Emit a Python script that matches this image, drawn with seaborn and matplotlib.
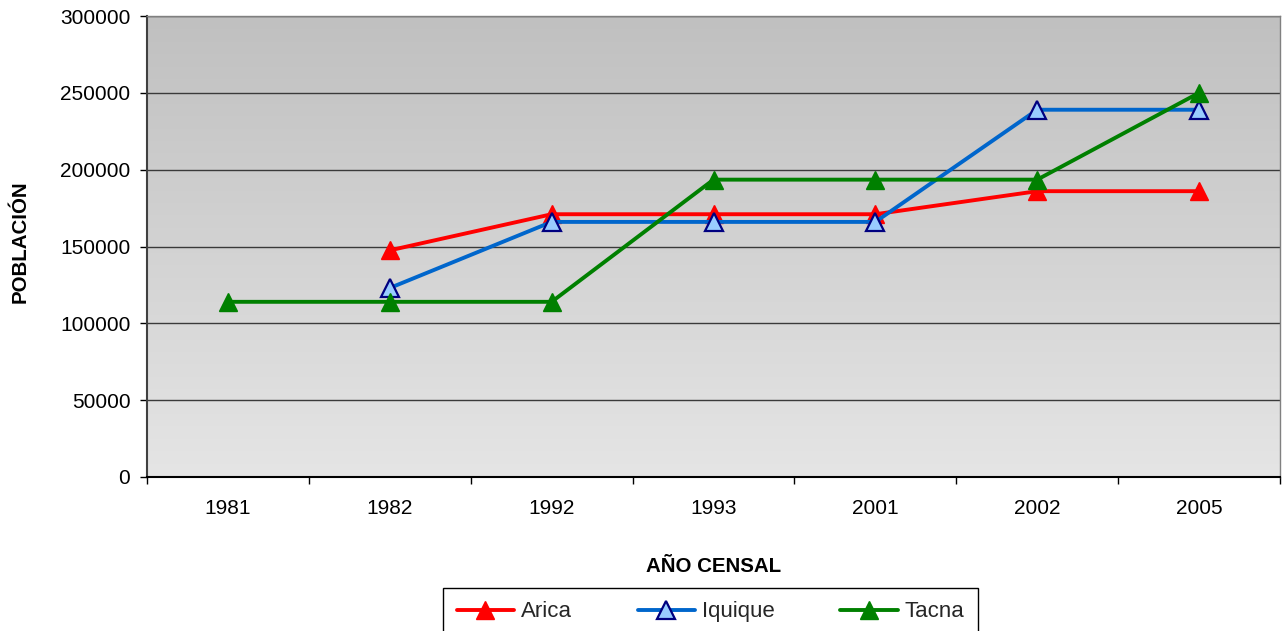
import numpy as np
import pandas as pd
import matplotlib
matplotlib.use("Agg")
import matplotlib.pyplot as plt
import seaborn as sns
from matplotlib.ticker import FixedLocator

# ---- data ----
years = ["1981", "1982", "1992", "1993", "2001", "2002", "2005"]
arica = [np.nan, 147500, 171000, 171000, 171000, 186000, 186000]
iquique = [np.nan, 123000, 166000, 166000, 166000, 239000, 239000]
tacna = [114000, 114000, 114000, 193500, 193500, 193500, 250000]
series_names = ["Arica", "Iquique", "Tacna"]
y_ticks = [0, 50000, 100000, 150000, 200000, 250000, 300000]

sns.set_theme(style="white")
plt.rcParams["font.family"] = ["Liberation Sans", "DejaVu Sans"]

pos = list(range(len(years)))
df = pd.DataFrame({
    "pos": pos * 3,
    "year": years * 3,
    "serie": np.repeat(series_names, len(years)),
    "valor": arica + iquique + tacna,
})

W, H = 1287, 631
fig = plt.figure(figsize=(W / 100, H / 100), dpi=100)
L, R, T, B = 147, 1280, 16, 477
ax = fig.add_axes([L / W, 1 - B / H, (R - L) / W, (B - T) / H])

# gradient background
g = np.linspace(192, 229, 256) / 255.0
grad = np.repeat(g[:, None], 2, axis=1)
rgb = np.dstack([grad, grad, grad])
ax.imshow(rgb, extent=[0, 1, 0, 1], transform=ax.transAxes, aspect="auto",
          zorder=0, interpolation="bilinear", origin="upper")

styles = {
    "Arica": dict(color="#ff0000", markerfacecolor="#ff0000", markeredgecolor="#ff0000", markeredgewidth=1),
    "Iquique": dict(color="#0066cc", markerfacecolor="#99ccff", markeredgecolor="#000080", markeredgewidth=1.6),
    "Tacna": dict(color="#008000", markerfacecolor="#008000", markeredgecolor="#008000", markeredgewidth=1),
}
for name in series_names:
    sub = df[df["serie"] == name].dropna()
    sns.lineplot(data=sub, x="pos", y="valor", ax=ax, marker="^", markersize=12.5,
                 linewidth=2.8, label=name, zorder=3, **styles[name])

ax.set_xlim(-0.5, len(years) - 0.5)
ax.set_ylim(y_ticks[0], y_ticks[-1])
ax.set_yticks(y_ticks)
ax.set_yticklabels([str(v) for v in y_ticks])
ax.set_xticks(pos)
ax.set_xticklabels(years)
ax.xaxis.set_minor_locator(FixedLocator([p - 0.5 for p in pos] + [len(years) - 0.5]))

ax.set_axisbelow(True)
ax.yaxis.grid(True, color="#3a3a3a", linewidth=1)
ax.xaxis.grid(False)

ax.tick_params(axis="y", which="major", direction="out", length=5, width=1, color="black",
               labelsize=15, pad=7, left=True, labelcolor="black")
ax.tick_params(axis="x", which="major", length=0, labelsize=15, pad=16, labelcolor="black")
ax.tick_params(axis="x", which="minor", direction="out", length=5, width=1, color="black", bottom=True)

for s in ["top", "right"]:
    ax.spines[s].set_color("#808080")
    ax.spines[s].set_linewidth(1)
ax.spines["left"].set_color("#404040")
ax.spines["left"].set_linewidth(1.5)
ax.spines["bottom"].set_color("black")
ax.spines["bottom"].set_linewidth(1.5)

ax.set_xlabel("")
ax.set_ylabel("")
fig.text(714 / W, 1 - 566 / H, "AÑO CENSAL", ha="center", va="center",
         fontsize=14.8, fontweight="bold", color="black")
fig.text(20 / W, 1 - 242 / H, "POBLACIÓN", ha="center", va="center", rotation=90,
         fontsize=14.8, fontweight="bold", color="black")

if ax.get_legend():
    ax.get_legend().remove()
handles, labels = ax.get_legend_handles_labels()
leg = fig.legend(handles, labels, loc="upper center", bbox_to_anchor=(710.5 / W, 1 - 588 / H),
                 ncol=3, fontsize=16, frameon=True, fancybox=False, edgecolor="black",
                 facecolor="white", framealpha=1, handlelength=2.6, handletextpad=0.3,
                 columnspacing=2.95, borderpad=0.6, borderaxespad=0)
leg.get_frame().set_linewidth(1)

fig.savefig("out.png", dpi=100)
